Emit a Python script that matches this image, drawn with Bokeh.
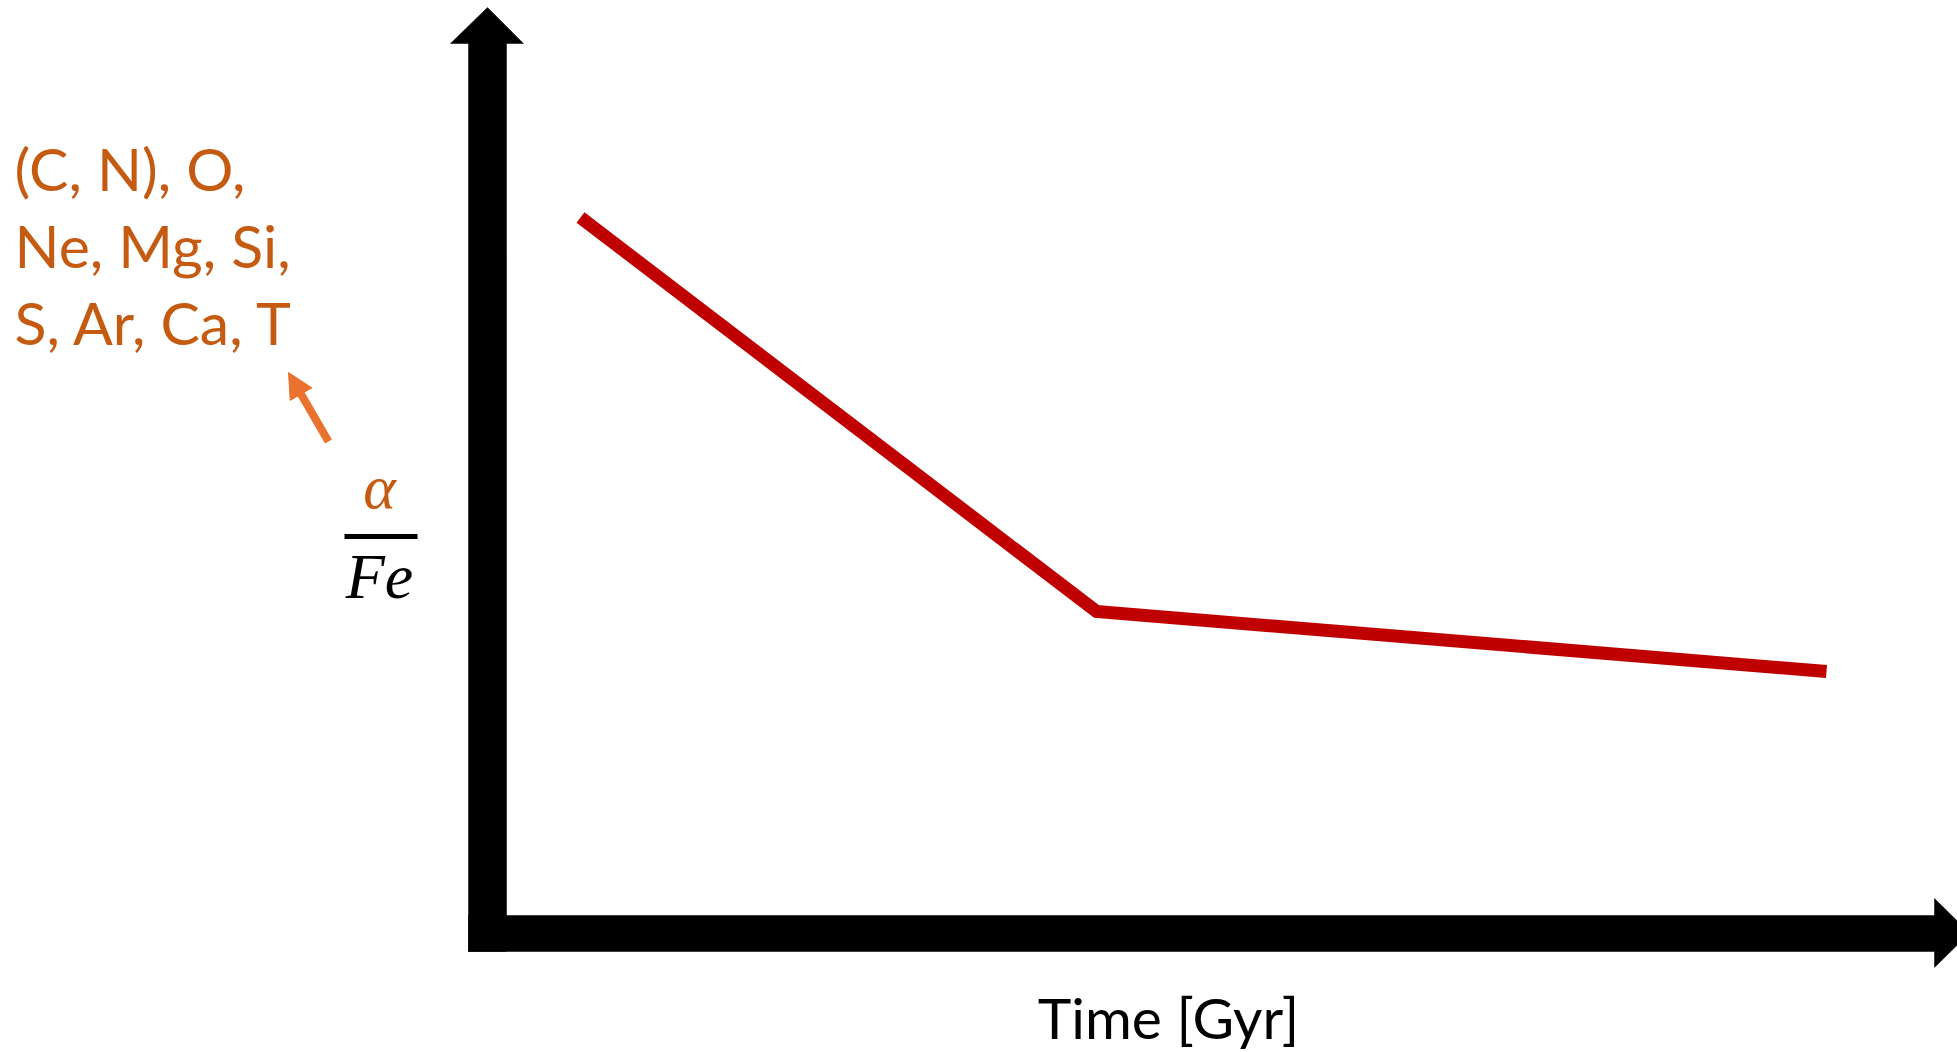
from bokeh.plotting import figure
from bokeh.models import Range1d, Arrow, NormalHead
from bokeh.core.properties import value
from bokeh.embed import file_html
from bokeh.resources import INLINE

# ---- data ----
time_gyr = [0.93, 6.09, 13.39]          # Time [Gyr]
alpha_fe = [0.716, 0.322, 0.262]        # [alpha/Fe] (arbitrary units)
element_lines = ["(C, N), O,", "Ne, Mg, Si,", "S, Ar, Ca, T"]
x_label = "Time [Gyr]"

# ---- layout helpers: page pixel -> data coordinates ----
W, H = 1957, 1052
PAGE_X, PAGE_Y = 0, 0       # where the figure sits on the page
OX, OY = 487.0, 933.0       # page px of the axes origin
SX, SY = 100.0, 1000.0      # px per data unit
TXT_DY = 21                 # baseline correction for the svg text renderer

def tx(px):
    return (px - OX) / SX

def ry(py):
    return (OY - py) / SY

def ty(py):
    return ry(py - TXT_DY)

p = figure(width=W, height=H, output_backend="svg", toolbar_location=None,
           x_range=Range1d(tx(PAGE_X), tx(PAGE_X + W)),
           y_range=Range1d(ry(PAGE_Y + H), ry(PAGE_Y)),
           x_axis_type=None, y_axis_type=None, min_border=0,
           outline_line_color=None, background_fill_color="white",
           border_fill_color="white")
p.grid.visible = False

# ---- axes drawn as thick black arrows ----
vert = [(468, 951), (468, 43), (450, 43), (487, 7), (523, 43), (506, 43), (506, 951)]
horz = [(468, 915), (1934, 915), (1934, 898), (1969, 932.5), (1934, 967), (1934, 951), (468, 951)]
p.patches(xs=[[tx(a) for a, b in vert], [tx(a) for a, b in horz]],
          ys=[[ry(b) for a, b in vert], [ry(b) for a, b in horz]],
          fill_color="black", line_color="black", line_width=0.5)

# ---- data line ----
p.line(time_gyr, alpha_fe, line_color="#C00000", line_width=13,
       line_cap="butt", line_join="miter")

# ---- element list ----
ORANGE_TXT = "#C55A11"
p.text(x=[tx(14)] * 3, y=[ty(189), ty(266), ty(343)], text=element_lines,
       text_font=value("Lato"), text_font_size="59px", text_color=ORANGE_TXT,
       text_align="left", text_baseline="alphabetic")

# ---- small orange arrow ----
p.add_layout(Arrow(x_start=tx(328), y_start=ry(441), x_end=tx(288), y_end=ry(372),
                   line_color="#E8722E", line_width=8,
                   end=NormalHead(size=25, fill_color="#E8722E", line_color="#E8722E",
                                  line_width=1)))

# ---- alpha / Fe fraction ----
p.text(x=[tx(379)], y=[ty(507)], text=["α"], text_font=value("Liberation Serif"),
       text_font_style="italic", text_font_size="62px", text_color=ORANGE_TXT,
       text_align="center", text_baseline="alphabetic")
p.segment(x0=[tx(344)], y0=[ry(536)], x1=[tx(417)], y1=[ry(536)],
          line_color="black", line_width=5)
p.text(x=[tx(379)], y=[ty(597)], text=["Fe"], text_font=value("Liberation Serif"),
       text_font_style="italic", text_font_size="64px", text_color="black",
       text_align="center", text_baseline="alphabetic")

# ---- x axis label ----
p.text(x=[tx(1168)], y=[ty(1037)], text=[x_label], text_font=value("Lato"),
       text_font_size="57px", text_color="black", text_align="center",
       text_baseline="alphabetic")

open("out.html", "w").write(file_html(p, INLINE))
